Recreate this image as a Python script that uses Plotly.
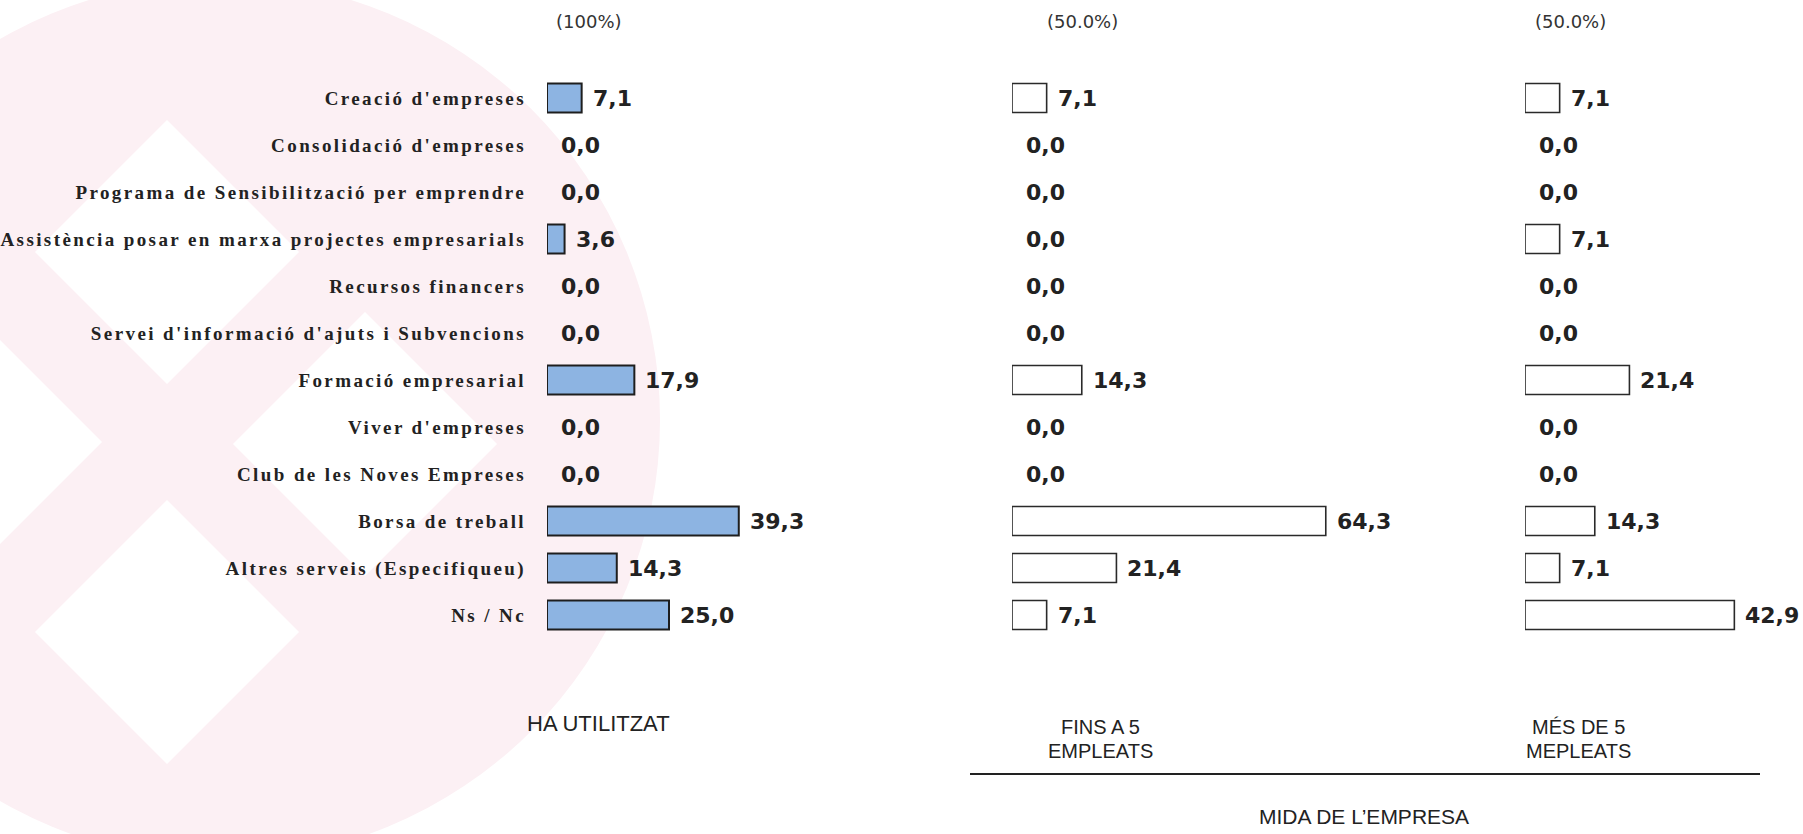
import plotly.graph_objects as go

# ---- data ----
categories = [
    "Creació d'empreses",
    "Consolidació d'empreses",
    "Programa de Sensibilització per emprendre",
    "Assistència posar en marxa projectes empresarials",
    "Recursos financers",
    "Servei d'informació d'ajuts i Subvencions",
    "Formació empresarial",
    "Viver d'empreses",
    "Club de les Noves Empreses",
    "Borsa de treball",
    "Altres serveis (Especifiqueu)",
    "Ns / Nc",
]
ha_utilitzat = [7.1, 0.0, 0.0, 3.6, 0.0, 0.0, 17.9, 0.0, 0.0, 39.3, 14.3, 25.0]
fins_a_5 = [7.1, 0.0, 0.0, 0.0, 0.0, 0.0, 14.3, 0.0, 0.0, 64.3, 21.4, 7.1]
mes_de_5 = [7.1, 0.0, 0.0, 7.1, 0.0, 0.0, 21.4, 0.0, 0.0, 14.3, 7.1, 42.9]

bases = ["(100%)", "(50.0%)", "(50.0%)"]
group_titles = ["HA UTILITZAT", "FINS A 5", "EMPLEATS", "MÉS DE 5", "MEPLEATS"]
size_title = "MIDA DE L’EMPRESA"

# ---- layout geometry (pixels) ----
W, H = 1803, 834
PX_PER_UNIT = 4.88
ROW0, ROW_STEP = 98, 47
panels = [  # (left edge px, right edge px)
    (547, 849),
    (1012, 1413),
    (1525, 1803),
]


def fx(p):
    return p / W


def fy(p):
    return 1 - p / H


series = [ha_utilitzat, fins_a_5, mes_de_5]
fills = ["#8db4e2", "white", "white"]
edges = ["#1e1e1e", "#2a2a2a", "#2a2a2a"]
edge_w = [2, 1.6, 1.6]
axis_ids = ["x", "x2", "x3"]

fig = go.Figure()
for k, vals in enumerate(series):
    fig.add_trace(go.Bar(
        x=vals, y=categories, orientation="h",
        xaxis=axis_ids[k], yaxis="y",
        width=0.62,
        marker=dict(
            color=fills[k],
            # empty categories get no outline at all
            line=dict(color=edges[k], width=[edge_w[k] if v > 0 else 0 for v in vals]),
        ),
        hoverinfo="skip", showlegend=False,
    ))

annotations = []
# value labels next to each bar
for k, vals in enumerate(series):
    for cat, v in zip(categories, vals):
        annotations.append(dict(
            x=v, y=cat, xref=axis_ids[k], yref="y",
            text=f"{v:.1f}".replace(".", ","),
            showarrow=False, xanchor="left", yanchor="middle",
            xshift=12 if v == 0 else 9,
            font=dict(family="DejaVu Sans", size=22, color="#222222", weight="bold"),
        ))

# base sizes above each column
for b, cx in zip(bases, [589, 1082, 1570]):
    annotations.append(dict(
        x=fx(cx), y=fy(22), xref="paper", yref="paper", text=b,
        showarrow=False, xanchor="center", yanchor="middle",
        font=dict(family="DejaVu Sans", size=18, color="#333333"),
    ))

sans = "Liberation Sans, Arial, sans-serif"
titles_pos = [(598, 723, 22), (1100, 727, 20), (1100, 751, 20), (1578, 727, 20), (1578, 751, 20)]
for t, (cx, cy, sz) in zip(group_titles, titles_pos):
    annotations.append(dict(
        x=fx(cx), y=fy(cy), xref="paper", yref="paper", text=t,
        showarrow=False, xanchor="center", yanchor="middle",
        font=dict(family=sans, size=sz, color="#222222"),
    ))
annotations.append(dict(
    x=fx(1364), y=fy(816), xref="paper", yref="paper", text=size_title,
    showarrow=False, xanchor="center", yanchor="middle",
    font=dict(family=sans, size=21, color="#222222"),
))

# background emblem: pale pink disc with white diamonds
shapes = []
cx, cy, rad = 220, 420, 440
shapes.append(dict(
    type="circle", xref="paper", yref="paper", layer="below",
    x0=fx(cx - rad), x1=fx(cx + rad), y0=fy(cy + rad), y1=fy(cy - rad),
    fillcolor="#fcf0f4", line=dict(width=0),
))
half = 132
for (dx, dy) in [(167, 252), (365, 444), (167, 632), (-30, 442)]:
    pts = [(dx, dy - half), (dx + half, dy), (dx, dy + half), (dx - half, dy)]
    path = "M " + " L ".join(f"{fx(a):.5f},{fy(b):.5f}" for a, b in pts) + " Z"
    shapes.append(dict(
        type="path", xref="paper", yref="paper", layer="below",
        path=path, fillcolor="white", line=dict(width=0),
    ))

# horizontal rule grouping the two size columns
shapes.append(dict(
    type="line", xref="paper", yref="paper",
    x0=fx(970), x1=fx(1760), y0=fy(774), y1=fy(774),
    line=dict(color="#222222", width=2),
))

y_top = -ROW0 / ROW_STEP
y_bot = y_top + H / ROW_STEP

layout_axes = {}
for k, (l, r) in enumerate(panels):
    name = "xaxis" if k == 0 else f"xaxis{k + 1}"
    layout_axes[name] = dict(
        domain=[fx(l), fx(r)],
        range=[0, (r - l) / PX_PER_UNIT],
        anchor="y",
        visible=False, showgrid=False, zeroline=False, fixedrange=True,
    )

fig.update_layout(
    width=W, height=H,
    margin=dict(l=0, r=0, t=0, b=0),
    paper_bgcolor="white", plot_bgcolor="rgba(0,0,0,0)",
    yaxis=dict(
        domain=[0, 1], range=[y_bot, y_top], type="category",
        categoryorder="array", categoryarray=categories,
        anchor="x", showgrid=False, zeroline=False, showline=False,
        ticks="", ticklabelstandoff=20, fixedrange=True,
        tickfont=dict(family="Liberation Serif, Times New Roman, serif",
                      size=19, color="#222222", weight="bold"),
    ),
    annotations=annotations,
    shapes=shapes,
    **layout_axes,
)

letter_spacing = (
    "var s=document.createElement('style');"
    "s.textContent='.ytick text{letter-spacing:2.4px}';"
    "document.head.appendChild(s);"
)
fig.write_html("out.html", config={"displayModeBar": False}, post_script=letter_spacing)
